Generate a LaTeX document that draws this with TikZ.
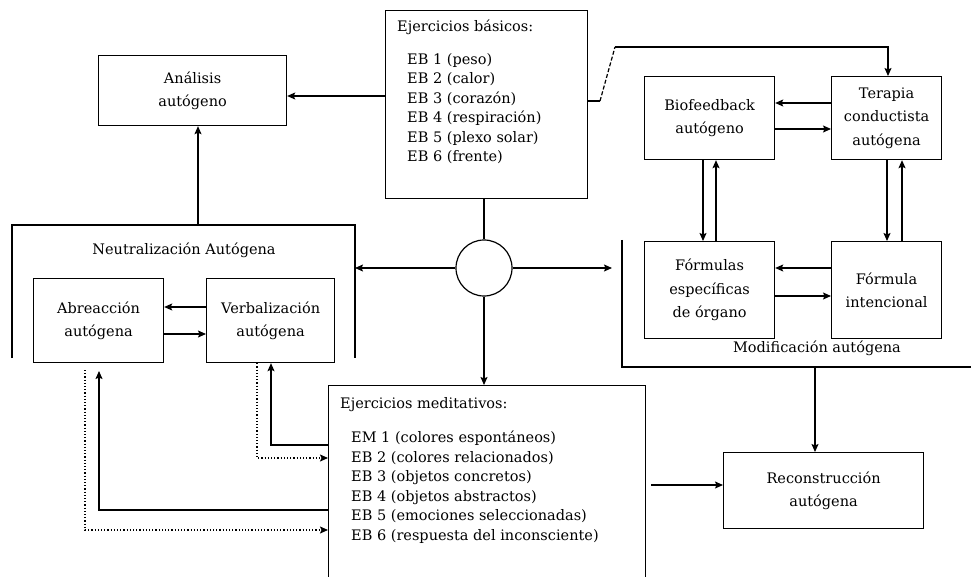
\documentclass[tikz,border=0pt]{standalone}
\usepackage{fontspec}
\setmainfont{DejaVu Serif}
\usetikzlibrary{arrows.meta}
\begin{document}
\begin{tikzpicture}[x=1pt,y=-1pt,
  font=\fontsize{14.5}{23.5}\selectfont,
  ln/.style={line width=1.2pt},
  box/.style={ln, draw, align=center, inner sep=0pt, anchor=north west},
  arr/.style={ln, -{Stealth[length=8pt,width=7pt,inset=1.5pt]}},
  dots/.style={arr, dotted},
  lbl/.style={inner sep=0pt, anchor=west},
  list/.style={lbl, align=left, font=\fontsize{14.5}{19.5}\selectfont}]
\useasboundingbox (0,0) rectangle (971,577);
\clip (0,0) rectangle (971,577);

% boxes (north west corner, width, height)
\node[box, minimum width=202, minimum height=188] (basicos) at (385,10) {};
\node[box, minimum width=188, minimum height=70] (analisis) at (98,55) {Análisis\\autógeno};
\node[box, minimum width=130, minimum height=84] (abreac) at (33,278) {Abreacción\\autógena};
\node[box, minimum width=128, minimum height=84] (verbal) at (206,278) {Verbalización\\autógena};
\node[box, minimum width=317, minimum height=230] (medit) at (328,385) {};
\node[box, minimum width=130, minimum height=83] (bio) at (644,76) {Biofeedback\\autógeno};
\node[box, minimum width=110, minimum height=83] (terapia) at (831,76) {Terapia\\conductista\\autógena};
\node[box, minimum width=130, minimum height=97] (formulas) at (644,241) {Fórmulas\\específicas\\de órgano};
\node[box, minimum width=110, minimum height=97] (intenc) at (831,241) {Fórmula\\intencional};
\node[box, minimum width=200, minimum height=76] (recon) at (723,452) {Reconstrucción\\autógena};
\node[ln, draw, circle, minimum size=56, inner sep=0pt] (hub) at (484,268) {};

% texts of the two exercise boxes
\node[lbl] (tbas) at (397,27) {Ejercicios básicos:};
\node[list, anchor=north west] (lbas) at (407,53) {EB 1 (peso)\\EB 2 (calor)\\EB 3 (corazón)\\EB 4 (respiración)\\EB 5 (plexo solar)\\EB 6 (frente)};
\node[lbl] (tmed) at (340,405) {Ejercicios meditativos:};
\node[list, anchor=north west] (lmed) at (351,431) {EM 1 (colores espontáneos)\\EB 2 (colores relacionados)\\EB 3 (objetos concretos)\\EB 4 (objetos abstractos)\\EB 5 (emociones seleccionadas)\\EB 6 (respuesta del inconsciente)};

% group brackets
\coordinate (nl) at (12,358);
\coordinate (nr) at (355,358);
\coordinate (ntop) at (198,225);
\draw[ln] (nl) |- (ntop) -| (nr);
\node (tneu) at (184,250) {Neutralización Autógena};
\coordinate (ml) at (622,240);
\coordinate (mr) at (975,367);
\draw[ln] (ml) |- (mr);
\node (tmod) at (817,348) {Modificación autógena};

% connectors
\draw[arr] (basicos.west |- 0,96) -- (analisis.east |- 0,96);
\draw[arr] (ntop) -- (analisis.south -| ntop);
\draw[ln] (hub.north |- basicos.south) -- (hub.north);
\draw[arr] (hub.west) -- (nr |- hub.west);
\draw[arr] (hub.east) -- (612,268);
\draw[arr] (hub.south) -- (medit.north -| hub.south);

\coordinate (j1) at (600,101);
\coordinate (j2) at (615,47);
\draw[ln] (basicos.east |- j1) -- (j1);
\draw[ln, dashed, dash pattern=on 4pt off 2pt] (j1) -- (j2);
\draw[arr] (j2) -| (terapia.north -| 888,0);

\draw[arr] (verbal.west |- 0,307) -- (abreac.east |- 0,307);
\draw[arr] (abreac.east |- 0,334) -- (verbal.west |- 0,334);

\draw[arr] (terapia.west |- 0,103) -- (bio.east |- 0,103);
\draw[arr] (bio.east |- 0,129) -- (terapia.west |- 0,129);
\draw[arr] (intenc.west |- 0,268) -- (formulas.east |- 0,268);
\draw[arr] (formulas.east |- 0,296) -- (intenc.west |- 0,296);
\draw[arr] (bio.south -| 703,0) -- (formulas.north -| 703,0);
\draw[arr] (formulas.north -| 716,0) -- (bio.south -| 716,0);
\draw[arr] (terapia.south -| 887,0) -- (intenc.north -| 887,0);
\draw[arr] (intenc.north -| 902,0) -- (terapia.south -| 902,0);

\draw[arr] (815,367) -- (recon.north -| 815,0);
\draw[arr] (651,485) -- (recon.west |- 0,485);

% feedback paths between meditative exercises and neutralization
\draw[arr] (medit.west |- 0,445) -| (verbal.south -| 271,0);
\draw[dots] (verbal.south -| 257,0) |- (medit.west |- 0,458);
\draw[arr] (medit.west |- 0,510) -| (99,371);
\draw[dots] (85,370) |- (medit.west |- 0,530);
\end{tikzpicture}
\end{document}
